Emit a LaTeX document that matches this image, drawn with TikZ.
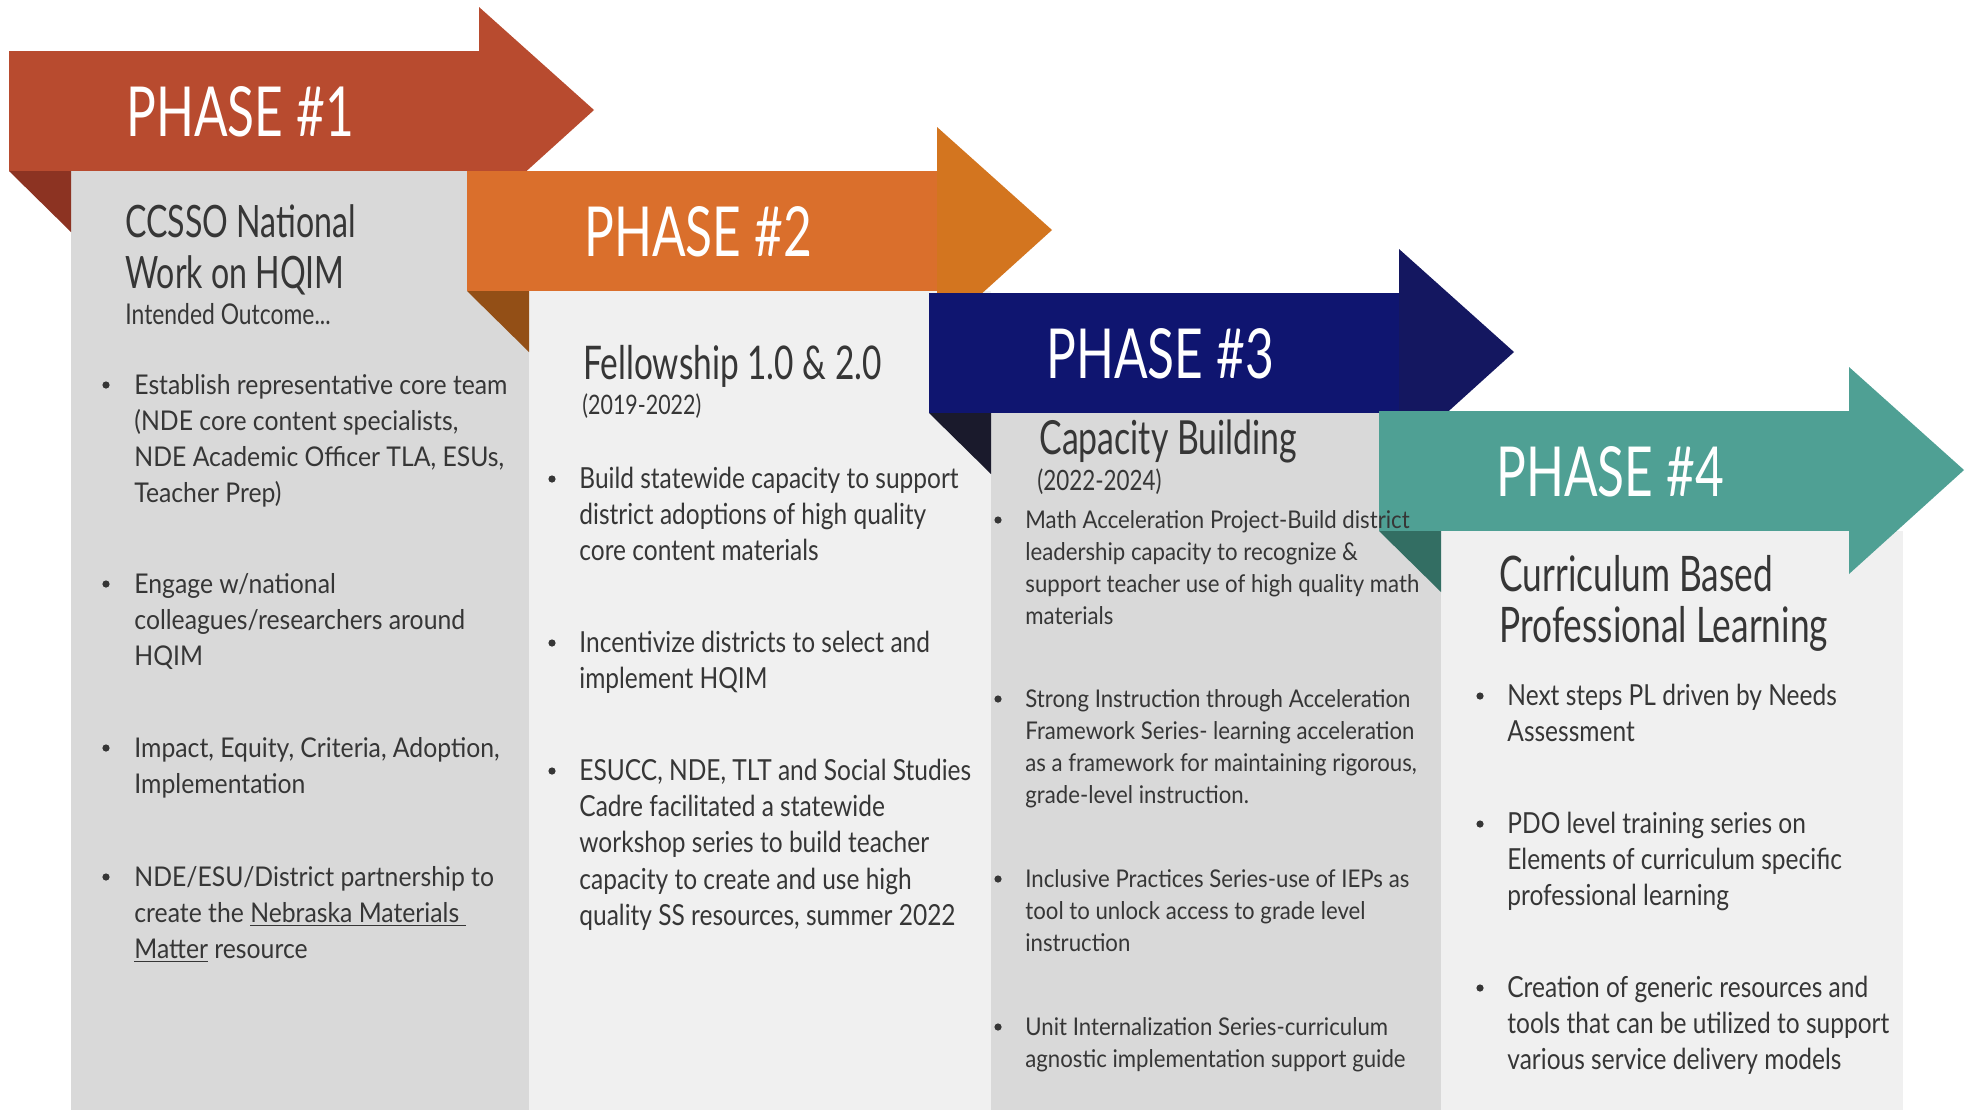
\documentclass[tikz,border=0pt]{standalone}
\usepackage{fontspec}
\setmainfont{Lato}
\newfontfamily\headfont{Lato}[FakeStretch=0.72]
\newfontfamily\subfont{Lato}[FakeStretch=0.80]
\newfontfamily\bodyfont{Lato}[FakeStretch=0.91]
\newfontfamily\narrowfont{Lato}[FakeStretch=0.845]
\definecolor{phaseA}{HTML}{B84B2F}
\definecolor{phaseAtip}{HTML}{B84B2F}
\definecolor{phaseAfold}{HTML}{8C3322}
\definecolor{phaseB}{HTML}{DA6F2C}
\definecolor{phaseBtip}{HTML}{D3751F}
\definecolor{phaseBfold}{HTML}{934F16}
\definecolor{phaseC}{HTML}{0F1570}
\definecolor{phaseCtip}{HTML}{141760}
\definecolor{phaseCfold}{HTML}{1A1A2C}
\definecolor{phaseD}{HTML}{4FA094}
\definecolor{phaseDtip}{HTML}{4FA094}
\definecolor{phaseDfold}{HTML}{336E63}
\definecolor{panelDark}{HTML}{D9D9D9}
\definecolor{panelLight}{HTML}{F0F0F0}
\definecolor{ink}{HTML}{363636}

\begin{document}
\begin{tikzpicture}[x=0.5pt,y=-0.5pt,
  phasetext/.style={anchor=base west,inner sep=0pt,text=white,font=\headfont\fontsize{34.5}{36}\selectfont},
  titletext/.style={anchor=base west,inner sep=0pt,text=ink,align=flush left,text width=300pt,font=\headfont\fontsize{#1}{25.5}\selectfont},
  titletext/.default=23.2,
  subtext/.style={anchor=base west,inner sep=0pt,text=ink,font=\subfont\fontsize{13.4}{16}\selectfont},
  itemtext/.style={anchor=base west,inner sep=0pt,text=ink,align=flush left,text width=240pt,font=\bodyfont\fontsize{13.6}{18.1}\selectfont},
  itemnarrow/.style={itemtext,font=\narrowfont\fontsize{14.5}{18.2}\selectfont},
  itemsmall/.style={itemtext,font=\bodyfont\fontsize{12.2}{16}\selectfont},
  bulletdot/.style={circle,fill=ink,inner sep=0pt,minimum size=3.6pt}]

  \useasboundingbox (0,0) rectangle (1979,1110);
  \fill[white] (0,0) rectangle (1979,1110);

  % panel, fold and arrow of each phase, back to front
  \foreach \xa/\ya/\cb/\ch/\cf/\cp in {9/51/phaseA/phaseAtip/phaseAfold/panelDark,
      467/171/phaseB/phaseBtip/phaseBfold/panelLight,
      929/293/phaseC/phaseCtip/phaseCfold/panelDark,
      1379/411/phaseD/phaseDtip/phaseDfold/panelLight}{
    \fill[\cp] (\xa+62,\ya+120) rectangle (\xa+524,1110);
    \fill[\cf] (\xa,\ya+120) -- (\xa+62,\ya+120) -- (\xa+62,\ya+181) -- cycle;
    \fill[\cb] (\xa,\ya) rectangle (\xa+471,\ya+120);
    \fill[\ch] (\xa+470,\ya-44) -- (\xa+585,\ya+59) -- (\xa+470,\ya+163) -- cycle;
  }

  \node[phasetext] (ph1) at (126,136) {PHASE \#1};
  \node[phasetext] (ph2) at (584,256) {PHASE \#2};
  \node[phasetext] (ph3) at (1046,378) {PHASE \#3};
  \node[phasetext] (ph4) at (1496,496) {PHASE \#4};

  % phase 1
  \node[titletext=22.3] (t1) at (125,237) {CCSSO National\\Work on HQIM};
  \node[subtext,font=\subfont\fontsize{14.3}{18}\selectfont] (s1) at (125,324) {Intended Outcome...};
  \node[bulletdot] (d11) at (106,385) {};
  \node[itemtext] (i11) at (134,394) {Establish representative core team\\(NDE core content specialists,\\NDE Academic Officer TLA, ESUs,\\Teacher Prep)};
  \node[bulletdot] (d12) at (106,584) {};
  \node[itemtext] (i12) at (134,593) {Engage w/national\\colleagues/researchers around\\HQIM};
  \node[bulletdot] (d13) at (106,748) {};
  \node[itemtext] (i13) at (134,757) {Impact, Equity, Criteria, Adoption,\\Implementation};
  \node[bulletdot] (d14) at (106,877) {};
  \node[itemtext] (i14) at (134,886) {NDE/ESU/District partnership to\\create the \underline{Nebraska Materials\ }\\\underline{Matter} resource};

  % phase 2
  \node[titletext] (t2) at (583,379) {Fellowship 1.0 \& 2.0};
  \node[subtext] (s2) at (582,414) {(2019-2022)};
  \node[bulletdot] (d21) at (552,479) {};
  \node[itemnarrow] (i21) at (579,488) {Build statewide capacity to support\\district adoptions of high quality\\core content materials};
  \node[bulletdot] (d22) at (552,643) {};
  \node[itemnarrow] (i22) at (579,652) {Incentivize districts to select and\\implement HQIM};
  \node[bulletdot] (d23) at (552,771) {};
  \node[itemnarrow] (i23) at (579,780) {ESUCC, NDE, TLT and Social Studies\\Cadre facilitated a statewide\\workshop series to build teacher\\capacity to create and use high\\quality SS resources, summer 2022};

  % phase 3
  \node[titletext=23.5] (t3) at (1039,454) {Capacity Building};
  \node[subtext,font=\subfont\fontsize{14}{18}\selectfont] (s3) at (1037,490) {(2022-2024)};
  \node[bulletdot] (d31) at (998,520) {};
  \node[itemsmall] (i31) at (1025,528) {Math Acceleration Project-Build district\\leadership capacity to recognize \&\\support teacher use of high quality math\\materials};
  \node[bulletdot] (d32) at (998,699) {};
  \node[itemsmall] (i32) at (1025,707) {Strong Instruction through Acceleration\\Framework Series- learning acceleration\\as a framework for maintaining rigorous,\\grade-level instruction.};
  \node[bulletdot] (d33) at (998,879) {};
  \node[itemsmall] (i33) at (1025,887) {Inclusive Practices Series-use of IEPs as\\tool to unlock access to grade level\\instruction};
  \node[bulletdot] (d34) at (998,1027) {};
  \node[itemsmall] (i34) at (1025,1035) {Unit Internalization Series-curriculum\\agnostic implementation support guide};

  % phase 4
  \node[titletext=24.5] (t4) at (1499,591) {Curriculum Based\\Professional Learning};
  \node[bulletdot] (d41) at (1480,696) {};
  \node[itemnarrow] (i41) at (1507,705) {Next steps PL driven by Needs\\Assessment};
  \node[bulletdot] (d42) at (1480,824) {};
  \node[itemnarrow] (i42) at (1507,833) {PDO level training series on\\Elements of curriculum specific\\professional learning};
  \node[bulletdot] (d43) at (1480,988) {};
  \node[itemnarrow] (i43) at (1507,997) {Creation of generic resources and\\tools that can be utilized to support\\various service delivery models};
\end{tikzpicture}
\end{document}
